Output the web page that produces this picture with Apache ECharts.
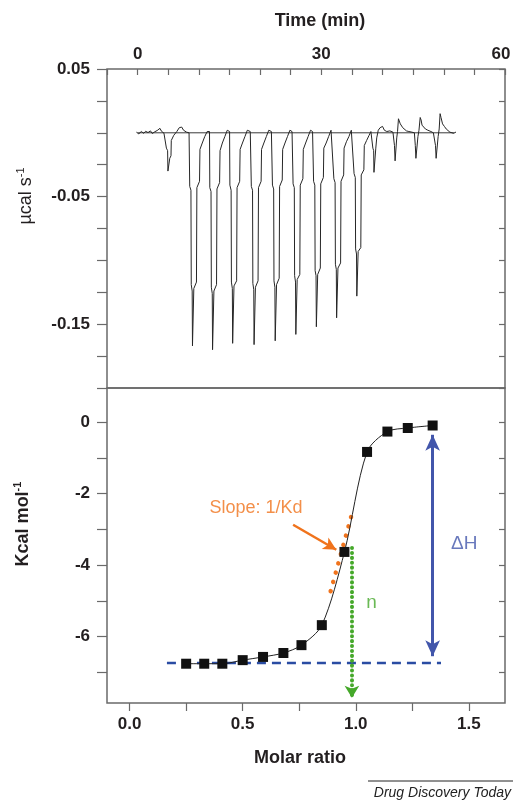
<!DOCTYPE html>
<html>
<head>
<meta charset="utf-8">
<title>ITC</title>
<script src="https://cdn.jsdelivr.net/npm/echarts@6/dist/echarts.min.js"></script>
<style>
  html, body { margin: 0; padding: 0; background: #fff; }
  #chart { width: 513px; height: 800px; }
</style>
</head>
<body>
<div id="chart"></div>
<script>
// raw thermogram, [time (min), ucal/s]
var rawTrace = [
  [-0.2, 0.0005], [0.2, -0.0008], [0.6, 0.001], [1.0, -0.0004], [1.3, 0.0012], [1.7, 0.0002], [2.1, 0.0015],
  [2.4, -0.0006], [2.8, 0.0008], [3.2, 0.0018], [3.65, 0.0035], [3.9, 0.0012], [4.3, -0.0003], [4.6, 0.0002],
  [4.64, 0.0003], [4.7, -0.012], [4.9, -0.014], [4.95, -0.03], [5.2, -0.031], [5.25, -0.02], [5.45, -0.018],
  [5.5, -0.006], [5.9, -0.002], [6.4, 0.001], [6.8, 0.004], [7.0, 0.005], [7.2, 0.0045], [7.5, 0.002], [8.0, 0.0005], [8.4, 0],
  [8.46, 0.0005], [8.51, -0.042], [8.71, -0.045], [8.76, -0.119], [8.91, -0.124], [8.96, -0.167], [9.12, -0.167], [9.18, -0.122],
  [9.61, -0.117], [9.68, -0.043], [10.11, -0.038], [10.18, -0.013], [10.56, -0.008], [10.96, -0.003], [11.36, 0.001], [11.62, 0.002],
  [11.74, 0.001], [11.79, -0.043], [11.99, -0.046], [12.04, -0.121], [12.19, -0.126], [12.24, -0.170], [12.40, -0.170], [12.46, -0.124],
  [12.89, -0.119], [12.96, -0.044], [13.39, -0.039], [13.46, -0.014], [13.84, -0.008], [14.24, -0.003], [14.64, 0.002], [14.90, 0.001],
  [15.02, 0.001], [15.07, -0.041], [15.27, -0.045], [15.32, -0.117], [15.47, -0.122], [15.52, -0.165], [15.68, -0.165], [15.74, -0.120],
  [16.17, -0.116], [16.24, -0.043], [16.67, -0.038], [16.74, -0.013], [17.12, -0.008], [17.52, -0.003], [17.92, 0.002], [18.40, 0.001],
  [18.52, 0.001], [18.57, -0.042], [18.77, -0.045], [18.82, -0.118], [18.97, -0.123], [19.02, -0.166], [19.18, -0.166], [19.24, -0.121],
  [19.67, -0.116], [19.74, -0.043], [20.17, -0.038], [20.24, -0.013], [20.62, -0.008], [21.02, -0.003], [21.42, 0.002], [21.85, 0.001],
  [21.97, 0.001], [22.02, -0.041], [22.22, -0.044], [22.27, -0.116], [22.42, -0.121], [22.47, -0.163], [22.63, -0.163], [22.69, -0.119],
  [23.12, -0.114], [23.19, -0.042], [23.62, -0.037], [23.69, -0.013], [24.07, -0.008], [24.47, -0.003], [24.87, 0.002], [25.22, 0.001],
  [25.34, 0.001], [25.39, -0.040], [25.59, -0.043], [25.64, -0.112], [25.79, -0.117], [25.84, -0.158], [26.00, -0.158], [26.06, -0.115],
  [26.49, -0.111], [26.56, -0.041], [26.99, -0.036], [27.06, -0.013], [27.44, -0.008], [27.84, -0.003], [28.24, 0.002], [28.57, 0.001],
  [28.69, 0.001], [28.74, -0.038], [28.94, -0.041], [28.99, -0.108], [29.14, -0.112], [29.19, -0.152], [29.35, -0.152], [29.41, -0.111],
  [29.84, -0.106], [29.91, -0.040], [30.34, -0.035], [30.41, -0.012], [30.79, -0.008], [31.19, -0.003], [31.59, 0.002], [31.90, 0.001],
  [32.00, 0.001], [32.05, -0.036], [32.25, -0.039], [32.30, -0.103], [32.45, -0.107], [32.50, -0.145], [32.66, -0.145], [32.72, -0.106],
  [33.15, -0.102], [33.22, -0.038], [33.65, -0.033], [33.72, -0.012], [34.10, -0.007], [34.50, -0.003], [34.90, 0.002], [35.20, 0.001],
  [35.30, 0.001], [35.35, -0.032], [35.55, -0.035], [35.60, -0.091], [35.75, -0.095], [35.80, -0.128], [35.96, -0.128], [36.02, -0.093],
  [36.45, -0.090], [36.52, -0.033], [36.95, -0.029], [37.02, -0.010], [37.40, -0.006], [37.80, -0.002], [38.10, 0.001],
  [38.36, 0.001], [38.42, -0.012], [38.55, -0.014], [38.60, -0.031], [38.85, -0.031], [38.90, -0.012], [39.05, -0.004], [39.3, 0.002],
  [39.6, 0.004], [39.8, 0.003], [40.0, 0.005], [40.3, 0.002], [40.7, 0.001], [41.2, 0.0015], [41.7, 0.0005],
  [41.90, 0.001], [41.95, -0.010], [42.05, -0.022], [42.25, -0.021], [42.32, -0.004], [42.45, 0.001], [42.60, 0.011], [42.75, 0.010],
  [42.90, 0.007], [43.10, 0.006], [43.30, 0.004], [43.60, 0.003], [43.90, 0.0015], [44.3, 0.001], [44.8, 0.0005], [45.2, 0],
  [45.30, 0.001], [45.35, -0.010], [45.45, -0.020], [45.70, -0.019], [45.78, -0.003], [45.95, 0.002], [46.15, 0.012], [46.30, 0.010],
  [46.45, 0.006], [46.70, 0.005], [47.00, 0.003], [47.40, 0.002], [47.9, 0.001], [48.3, 0],
  [48.60, 0.001], [48.65, -0.010], [48.75, -0.020], [49.00, -0.019], [49.08, -0.003], [49.25, 0.003], [49.40, 0.015], [49.55, 0.012],
  [49.80, 0.007], [50.10, 0.005], [50.40, 0.003], [50.70, 0.0015], [51.0, 0.0005], [51.3, 0.0012], [51.6, -0.0004], [52.0, 0.0006]
]
var zeroLine = [[0, 0], [51.7, 0]]
var timeLabels = [0, 30, 60]
var powerLabels = [0.05, -0.05, -0.15]

// integrated heats
var molarRatio = [0.25, 0.33, 0.41, 0.50, 0.59, 0.68, 0.76, 0.85, 0.95, 1.05, 1.14, 1.23, 1.34]
var heat = [-6.76, -6.76, -6.76, -6.66, -6.57, -6.46, -6.24, -5.68, -3.63, -0.83, -0.26, -0.16, -0.09]
var heatTicks = [-7, -6, -5, -4, -3, -2, -1, 0]
var heatLabels = [-6, -4, -2, 0]
var ratioTicks = [0, 0.25, 0.5, 0.75, 1, 1.25, 1.5]
var ratioLabels = [0, 0.5, 1, 1.5]

// annotations (data units)
var dHLevel = [[0.165, -6.74], [1.377, -6.74]]
var slopeLine = [[0.889, -4.73], [0.988, -2.45]]
var slopeArrow = [[0.723, -2.87], [0.914, -3.57]]
var nArrow = [[0.983, -3.52], [0.983, -7.71]]
var dHArrow = [[1.34, -0.35], [1.34, -6.55]]
var noteText = ['Slope: 1/Kd', 'n', 'ΔH']
var notePos = [[0.559, -2.39], [1.07, -5.05], [1.48, -3.4]]

var FONT = "'Liberation Sans', Arial, Helvetica, sans-serif"
var TXT = '#231f20'
var AX = '#6a6a6a'
var ORANGE = '#f0731c'
var GREEN = '#45a82a'
var BLUE = '#4256ab'

var chart = echarts.init(document.getElementById('chart'))

var tickLabel = { color: TXT, fontSize: 17, fontWeight: 'bold', fontFamily: FONT }
var noteColors = [ORANGE, GREEN, BLUE]
var gridBox = { left: 107, right: 8, show: true, borderColor: AX, borderWidth: 1.5, backgroundColor: 'transparent', outerBoundsMode: 'none', containLabel: false }

chart.setOption({
  animation: false,
  grid: [
    Object.assign({ top: 69, height: 319 }, gridBox),
    Object.assign({ top: 388, height: 315 }, gridBox)
  ],
  xAxis: [
    {
      gridIndex: 0, type: 'value', position: 'top', min: -5, max: 60, interval: 5,
      axisLine: { show: false, onZero: false },
      axisTick: { inside: true, length: 6, lineStyle: { color: AX, width: 1.2 } },
      axisLabel: Object.assign({
        margin: 6, customValues: timeLabels,
        // 最右边的 60 往里收一点
        formatter: function (v) { return v === 60 ? '{e|60}' : String(v) },
        rich: { e: { fontSize: 17, fontWeight: 'bold', fontFamily: FONT, color: TXT, padding: [0, 8, 0, 0] } }
      }, tickLabel),
      splitLine: { show: false }
    },
    {
      gridIndex: 1, type: 'value', position: 'bottom', min: -0.1, max: 1.66,
      axisLine: { show: false, onZero: false },
      axisTick: { length: 8, customValues: ratioTicks, lineStyle: { color: AX, width: 1.2 } },
      axisLabel: Object.assign({
        margin: 13, customValues: ratioLabels,
        formatter: function (v) { return v.toFixed(1) }
      }, tickLabel),
      splitLine: { show: false }
    }
  ],
  yAxis: [
    {
      gridIndex: 0, type: 'value', position: 'left', min: -0.2, max: 0.05, interval: 0.025,
      axisLine: { show: false, onZero: false },
      axisTick: { length: 10, lineStyle: { color: AX, width: 1.2 } },
      axisLabel: Object.assign({
        margin: 17, customValues: powerLabels,
        formatter: function (v) { return v.toFixed(2) }
      }, tickLabel),
      splitLine: { show: false }
    },
    {
      gridIndex: 0, type: 'value', position: 'right', min: -0.2, max: 0.05, interval: 0.025,
      axisLine: { show: false, onZero: false },
      axisTick: { inside: true, length: 6, lineStyle: { color: AX, width: 1.2 } },
      axisLabel: { show: false },
      splitLine: { show: false }
    },
    {
      gridIndex: 1, type: 'value', position: 'left', min: -7.86, max: 0.96,
      axisLine: { show: false, onZero: false },
      axisTick: { length: 10, customValues: heatTicks, lineStyle: { color: AX, width: 1.2 } },
      axisLabel: Object.assign({ margin: 17, customValues: heatLabels }, tickLabel),
      splitLine: { show: false }
    },
    {
      gridIndex: 1, type: 'value', position: 'right', min: -7.86, max: 0.96,
      axisLine: { show: false, onZero: false },
      axisTick: { inside: true, length: 6, customValues: heatTicks, lineStyle: { color: AX, width: 1.2 } },
      axisLabel: { show: false },
      splitLine: { show: false }
    }
  ],
  series: [
    {
      // 基线
      type: 'line', xAxisIndex: 0, yAxisIndex: 0, data: zeroLine,
      symbol: 'none', lineStyle: { color: '#3a3a3a', width: 1 }, z: 2
    },
    {
      type: 'line', xAxisIndex: 0, yAxisIndex: 0, data: rawTrace,
      symbol: 'none', lineStyle: { color: '#262626', width: 1 }, z: 3
    },
    {
      type: 'line', xAxisIndex: 1, yAxisIndex: 2, data: dHLevel,
      symbol: 'none', lineStyle: { color: '#2a4ca3', width: 2.5, type: [9, 6] }, z: 2,
      markLine: {
        silent: true, animation: false, label: { show: false },
        data: [
          [
            { coord: dHArrow[0], symbol: 'arrow', symbolSize: [11, 16] },
            { coord: dHArrow[1], symbol: 'arrow', symbolSize: [11, 16], lineStyle: { color: BLUE, width: 3, type: 'solid' } }
          ],
          [
            { coord: nArrow[0], symbol: 'none' },
            { coord: nArrow[1], symbol: 'arrow', symbolSize: [11, 12], lineStyle: { color: GREEN, width: 4, type: [0.1, 4.8], cap: 'round' } }
          ],
          [
            { coord: slopeArrow[0], symbol: 'none' },
            { coord: slopeArrow[1], symbol: 'arrow', symbolSize: [10, 13], lineStyle: { color: ORANGE, width: 2.5, type: 'solid' } }
          ]
        ]
      }
    },
    {
      // 切线
      type: 'line', xAxisIndex: 1, yAxisIndex: 2, data: slopeLine,
      symbol: 'none', lineStyle: { color: ORANGE, width: 4.5, type: [0.1, 9.5], cap: 'round' }, z: 3
    },
    {
      type: 'line', xAxisIndex: 1, yAxisIndex: 2,
      data: molarRatio.map(function (x, i) { return [x, heat[i]] }),
      smooth: 0.3, symbol: 'rect', symbolSize: 10, showAllSymbol: true,
      itemStyle: { color: '#111' }, lineStyle: { color: '#222', width: 1 }, z: 5
    },
    {
      type: 'scatter', xAxisIndex: 1, yAxisIndex: 2, symbolSize: 1, silent: true,
      itemStyle: { color: 'transparent' },
      data: noteText.map(function (t, i) {
        return {
          name: t, value: notePos[i],
          label: { show: true, position: 'inside', formatter: '{b}', color: noteColors[i], fontSize: i === 0 ? 18 : 19, fontFamily: FONT }
        }
      }),
      z: 6
    }
  ],
  graphic: [
    {
      type: 'text', x: 320, y: 21,
      style: { text: 'Time (min)', font: 'bold 18px ' + FONT, fill: TXT, align: 'center', verticalAlign: 'middle' }
    },
    {
      type: 'text', x: 300, y: 758,
      style: { text: 'Molar ratio', font: 'bold 18px ' + FONT, fill: TXT, align: 'center', verticalAlign: 'middle' }
    },
    {
      type: 'text', x: 26, y: 196, rotation: Math.PI / 2,
      style: {
        text: '{a|µcal s}{s|-1}', align: 'center', verticalAlign: 'middle', fill: TXT,
        rich: {
          a: { fontSize: 18, fontFamily: FONT, lineHeight: 22, fill: TXT },
          s: { fontSize: 11, fontFamily: FONT, verticalAlign: 'top', fill: TXT }
        }
      }
    },
    {
      type: 'text', x: 23, y: 524, rotation: Math.PI / 2,
      style: {
        text: '{a|Kcal mol}{s|-1}', align: 'center', verticalAlign: 'middle', fill: TXT,
        rich: {
          a: { fontSize: 18, fontWeight: 'bold', fontFamily: FONT, lineHeight: 22, fill: TXT },
          s: { fontSize: 11, fontWeight: 'bold', fontFamily: FONT, verticalAlign: 'top', fill: TXT }
        }
      }
    },
    {
      type: 'line', shape: { x1: 368, y1: 781, x2: 513, y2: 781 },
      style: { stroke: '#222', lineWidth: 1 }
    },
    {
      type: 'text', x: 511, y: 793,
      style: { text: 'Drug Discovery Today', font: 'italic 14px ' + FONT, fill: '#222', align: 'right', verticalAlign: 'middle' }
    }
  ]
})
</script>
</body>
</html>
